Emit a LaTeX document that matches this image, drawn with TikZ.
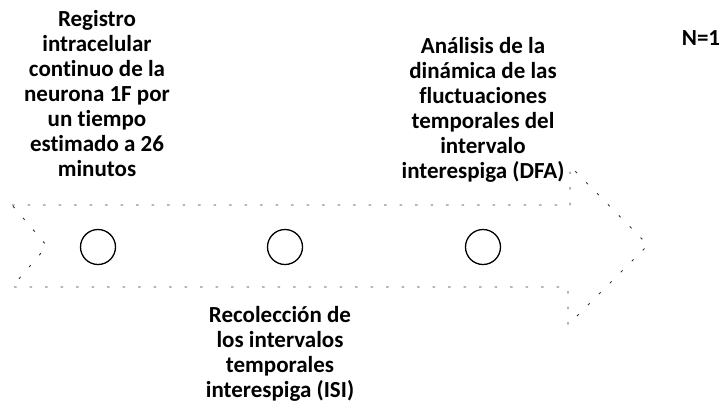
\documentclass[tikz,border=0pt]{standalone}
\usepackage{fontspec}
\setmainfont{Carlito}[Ligatures={NoCommon}]
\begin{document}
\begin{tikzpicture}[x=1pt,y=-1pt,
  lbl/.style={align=center,font=\bfseries\fontsize{23}{25}\selectfont,inner sep=0pt},
  ring/.style={draw=black,line width=1.3pt,circle,minimum size=35pt,inner sep=0pt},
  faint/.style={draw=black!80,line width=0.9pt,dash pattern=on 2.5pt off 13pt}]
\useasboundingbox (0,0) rectangle (722,408);
% dashed arrow outline
\coordinate (p1) at (12,205);
\coordinate (p2) at (570,205);
\coordinate (p3) at (570,166);
\coordinate (tip) at (648,245);
\coordinate (p5) at (568,325);
\coordinate (p6) at (568,287);
\coordinate (p7) at (12,287);
\coordinate (notch) at (47,246);
\draw[faint] (p1) -- (p2) -- (p3) -- (tip) -- (p5) -- (p6) -- (p7) -- (notch) -- cycle;
% circles
\node[ring] (c1) at (98,247) {};
\node[ring] (c2) at (285,247) {};
\node[ring] (c3) at (483,247) {};
% texts
\node[lbl,fill=white] (t1) at (97,94) {Registro\\intracelular\\continuo de la\\neurona 1F por\\un tiempo\\estimado a 26\\minutos};
\node[lbl,fill=white] (t2) at (483,110) {Análisis de la\\dinámica de las\\fluctuaciones\\temporales del\\intervalo\\interespiga (DFA)};
\node[lbl] (t3) at (280,354) {Recolección de\\los intervalos\\temporales\\interespiga (ISI)};
\node[lbl] (n) at (701,38) {N=1};
\end{tikzpicture}
\end{document}
